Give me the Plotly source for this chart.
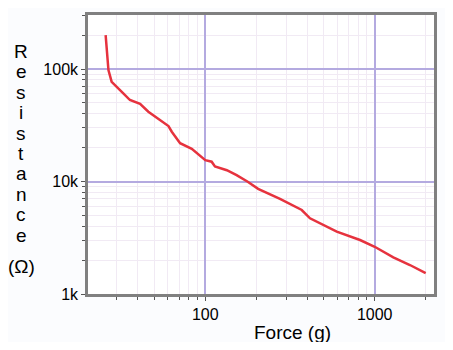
import plotly.graph_objects as go

force_g = [25.8, 26.8, 28.0, 30, 32.8, 35.9, 41.2, 46.1, 54.1, 60.6, 63.4, 71, 83.2,
           100, 109, 114, 134, 153, 178, 205, 276, 371, 415, 597, 819, 1000, 1288, 1614, 2000]
resistance_ohm = [200000, 98000, 77000, 68800, 60800, 53000, 48900, 41700, 35200, 31100, 27700,
                  21900, 19500, 15500, 15000, 13600, 12600, 11400, 9960, 8600, 7000, 5580, 4710,
                  3580, 3020, 2630, 2120, 1810, 1530]

x_tickvals = [100, 1000]
x_ticktext = ["100", "1000"]
y_tickvals = [1000, 10000, 100000]
y_ticktext = ["1k", "10k", "100k"]
y_title_parts = ["R", "e", "s", "i", "s", "t", "a", "n", "c", "e", "(Ω)"]

font = "Liberation Sans, Arial, sans-serif"

fig = go.Figure()
fig.add_trace(go.Scatter(x=force_g, y=resistance_ohm, mode="lines",
                         line=dict(color="#e6323e", width=2.5), showlegend=False))

major_grid = "#b4aae0"
minor_grid = "#f1eaf4"
axis_col = "#808080"

common = dict(type="log", showgrid=True, gridcolor=major_grid, gridwidth=1.6,
              ticks="outside", ticklen=4, tickcolor="#555", tickwidth=1,
              showline=True, linecolor=axis_col, linewidth=2.5, mirror=True,
              tickfont=dict(family=font, size=16, color="#000"),
              minor=dict(dtick="D1", ticks="outside", ticklen=3, tickcolor="#555",
                         showgrid=True, gridcolor=minor_grid, gridwidth=1),
              zeroline=False, automargin=False)

fig.update_xaxes(range=[1.3075, 3.35], tickvals=x_tickvals, ticktext=x_ticktext, **common)
fig.update_yaxes(range=[3, 5.48], tickvals=y_tickvals, ticktext=y_ticktext, **common)

# page body has an 8px margin; the figure is sized/placed to compensate
W, H = 437, 334
L, R, T, B = 80, 11, 7, 48
pw, ph = W - L - R, H - T - B

fig.add_annotation(text="Force (g)", xref="paper", yref="paper",
                   x=(292 - 88) / pw, y=-(333 - 294) / ph,
                   xanchor="center", yanchor="middle", showarrow=False,
                   font=dict(family=font, size=19, color="#000"))

# stacked vertical title, one line per letter (page y of first line 51, step 20.5, last at 266)
for i, part in enumerate(y_title_parts):
    py = 51.5 + 20.4 * i if i < len(y_title_parts) - 1 else 266.5
    fig.add_annotation(text=part, xref="paper", yref="paper", x=-(88 - 21) / pw,
                       y=(294 - py) / ph, xanchor="center", yanchor="middle",
                       showarrow=False, font=dict(family=font, size=19, color="#000"))

fig.update_layout(width=W, height=H, margin=dict(l=L, r=R, t=T, b=B),
                  paper_bgcolor="#fbfcfe", plot_bgcolor="#ffffff")

fig.write_html("out.html")
